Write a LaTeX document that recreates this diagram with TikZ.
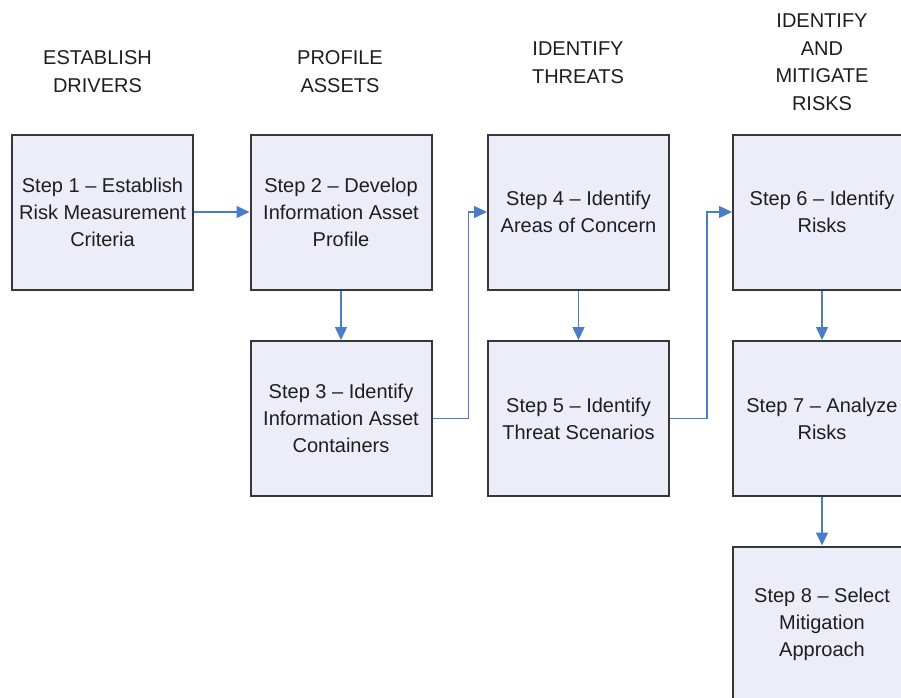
\documentclass[tikz,border=0pt]{standalone}
\usepackage{fontspec}
\setmainfont{Liberation Sans}
\usetikzlibrary{arrows.meta}
\definecolor{boxfill}{RGB}{237,237,249}
\definecolor{boxline}{RGB}{55,55,55}
\definecolor{arrowblue}{RGB}{74,124,200}
\definecolor{txt}{RGB}{30,30,30}
\tikzset{
  stepbox/.style={draw=boxline, line width=2pt, fill=boxfill, minimum width=181pt, minimum height=155pt,
    inner sep=0pt, align=center, text=txt, font=\fontsize{20}{27}\selectfont},
  widebox/.style={stepbox, minimum width=178pt},
  header/.style={align=center, inner sep=0pt, text=txt, font=\fontsize{20}{27.5}\selectfont},
  flow/.style={draw=arrowblue, line width=1.4pt, -{Triangle[length=13pt,width=12pt]}}
}
\begin{document}
\begin{tikzpicture}[x=1pt,y=-1pt]
\useasboundingbox (0,0) rectangle (901,697);
\clip (0,0) rectangle (901,697);
\fill[white] (0,0) rectangle (901,697);
% headers
\node[header] (h1) at (97.5,71.5) {ESTABLISH\\DRIVERS};
\node[header] (h2) at (340,71.5) {PROFILE\\ASSETS};
\node[header] (h3) at (578,62.5) {IDENTIFY\\THREATS};
\node[header] (h4) at (822,62) {IDENTIFY\\AND\\MITIGATE\\RISKS};
% boxes
\node[stepbox] (s1) at (102.5,212) {Step 1 -- Establish\\Risk Measurement\\Criteria};
\node[stepbox] (s2) at (341,212) {Step 2 -- Develop\\Information Asset\\Profile};
\node[stepbox] (s3) at (341,418.5) {Step 3 -- Identify\\Information Asset\\Containers};
\node[stepbox] (s4) at (578.5,212) {Step 4 -- Identify\\Areas of Concern};
\node[stepbox] (s5) at (578.5,418.5) {Step 5 -- Identify\\Threat Scenarios};
\node[widebox] (s6) at (822,212) {Step 6 -- Identify\\Risks};
\node[widebox] (s7) at (822,418.5) {Step 7 -- Analyze\\Risks};
\node[widebox] (s8) at (822,624) {Step 8 -- Select\\Mitigation\\Approach};
% connectors
\draw[flow] (s1.east) -- (s2.west);
\draw[flow] (s2.south) -- (s3.north);
\draw[flow] (s3.east) -- ++(36,0) |- (s4.west);
\draw[flow] (s4.south) -- (s5.north);
\draw[flow] (s5.east) -- ++(37,0) |- (s6.west);
\draw[flow] (s6.south) -- (s7.north);
\draw[flow] (s7.south) -- (s8.north);
\end{tikzpicture}
\end{document}
